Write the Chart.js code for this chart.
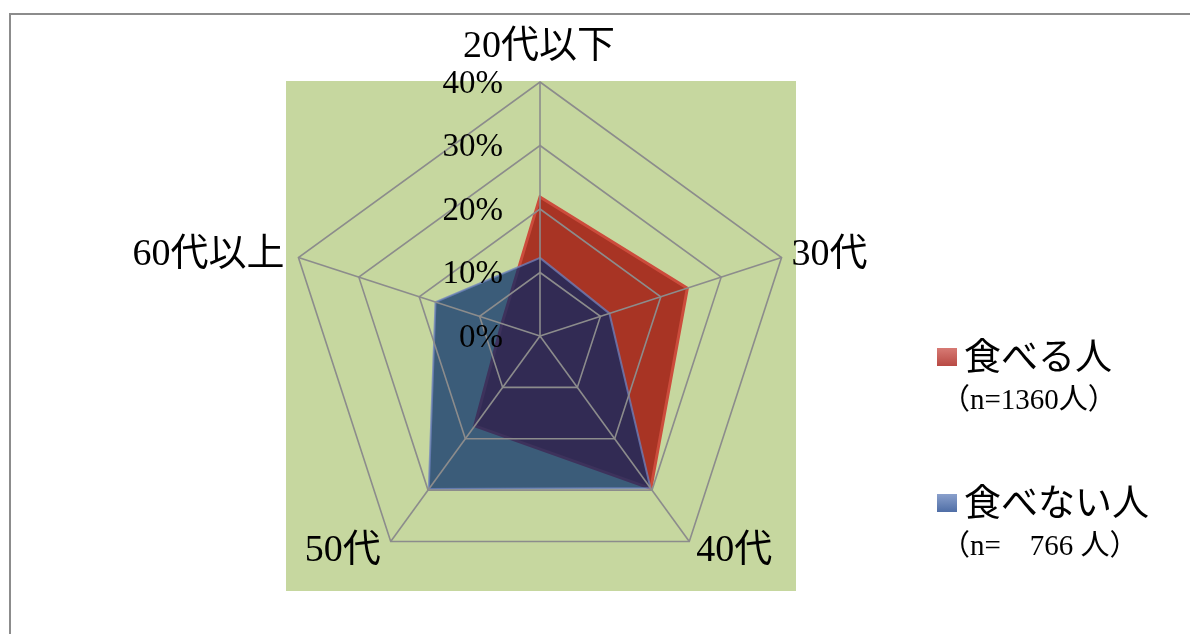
<!DOCTYPE html>
<html lang="ja">
<head>
<meta charset="utf-8">
<title>年代別 食べる人・食べない人</title>
<script src="https://cdn.jsdelivr.net/npm/chart.js@4/dist/chart.umd.min.js"></script>
<style>
  html, body { margin: 0; padding: 0; background: #ffffff; }
  #wrap { width: 1190px; height: 634px; }
</style>
</head>
<body>
<div id="wrap"><canvas id="radar" width="1190" height="634"></canvas></div>
<script>
// Age groups around the radar
const categories = ['20代以下', '30代', '40代', '50代', '60代以上'];
// Share of each age group (%)
const eaters = [21.9, 24.4, 29.7, 17.5, 6.3];
const nonEaters = [12.3, 11.5, 29.6, 29.8, 17.3];
// Radial tick values (%)
const tickValues = [0, 10, 20, 30, 40];
const seriesNames = ['食べる人', '食べない人'];
const sampleNotes = ['（n=1360人）', '（n=　766 人）'];

const SERIF = '"Liberation Serif", "Noto Sans CJK JP", serif';
const GRID = '#8c8c8c';

// Page frame and plot background (drawn under the data)
const backdrop = {
  id: 'backdrop',
  beforeDraw(chart) {
    const ctx = chart.ctx;
    ctx.save();
    ctx.fillStyle = '#ffffff';
    ctx.fillRect(0, 0, chart.width, chart.height);
    ctx.strokeStyle = GRID;
    ctx.lineWidth = 2;
    ctx.beginPath();
    ctx.moveTo(10, chart.height);
    ctx.lineTo(10, 14);
    ctx.lineTo(chart.width, 14);
    ctx.stroke();
    const s = chart.scales.r;
    const half = s.drawingArea;
    ctx.fillStyle = '#c6d79f';
    ctx.fillRect(s.xCenter - half, s.yCenter - half - 1, half * 2 + 2, half * 2 + 2);
    ctx.restore();
  }
};

// Category names, percentage ticks and the legend block
const annotations = {
  id: 'annotations',
  afterDraw(chart) {
    const ctx = chart.ctx;
    const s = chart.scales.r;
    ctx.save();
    ctx.fillStyle = '#000000';

    // category labels at the outer ring
    ctx.font = '38px ' + SERIF;
    ctx.textBaseline = 'middle';
    const place = [
      { dx: -1, dy: -35, align: 'center' },
      { dx: 10, dy: -2, align: 'left' },
      { dx: 7, dy: 10, align: 'left' },
      { dx: -10, dy: 10, align: 'right' },
      { dx: -14, dy: -2, align: 'right' }
    ];
    categories.forEach((name, i) => {
      const p = s.getPointPosition(i, s.drawingArea);
      ctx.textAlign = place[i].align;
      ctx.fillText(name, p.x + place[i].dx, p.y + place[i].dy);
    });

    // percentage ticks along the top axis
    ctx.font = '33px ' + SERIF;
    ctx.textAlign = 'right';
    tickValues.forEach(v => {
      const y = s.yCenter - s.getDistanceFromCenterForValue(v);
      ctx.fillText(v + '%', s.xCenter - 37, y + 2);
    });

    // legend
    const colors = [
      ['#d77a74', '#b84a44'],
      ['#8aa0cc', '#4f6ea6']
    ];
    const rows = [357, 503];
    rows.forEach((y, i) => {
      const g = ctx.createLinearGradient(0, y - 9, 0, y + 9);
      g.addColorStop(0, colors[i][0]);
      g.addColorStop(1, colors[i][1]);
      ctx.fillStyle = g;
      ctx.fillRect(937, y - 9, 20, 18);
      ctx.fillStyle = '#000000';
      ctx.font = '37px ' + SERIF;
      ctx.textAlign = 'left';
      ctx.fillText(seriesNames[i], 964, y + 3);
      ctx.font = '29px ' + SERIF;
      ctx.fillText(sampleNotes[i], 941, y + 44);
    });
    ctx.restore();
  }
};

new Chart(document.getElementById('radar'), {
  type: 'radar',
  data: {
    labels: categories,
    datasets: [
      {
        label: seriesNames[0],
        data: eaters,
        backgroundColor: 'rgb(168,52,36)',
        borderColor: 'rgb(204,76,60)',
        borderWidth: 3,
        fill: true,
        pointRadius: 0,
        order: 1
      },
      {
        label: seriesNames[1],
        data: nonEaters,
        backgroundColor: 'rgba(0,40,105,0.7)',
        borderColor: 'rgba(110,130,190,0.75)',
        borderWidth: 2,
        fill: true,
        pointRadius: 0,
        order: 0
      }
    ]
  },
  options: {
    responsive: false,
    devicePixelRatio: 1,
    animation: false,
    layout: { padding: { left: 286, right: 396, top: 82, bottom: 44 } },
    elements: { line: { tension: 0 } },
    plugins: { legend: { display: false }, tooltip: { enabled: false } },
    scales: {
      r: {
        min: 0,
        max: 40,
        ticks: { stepSize: 10, display: false, z: 1 },
        grid: { color: GRID, lineWidth: 1.6, z: 1 },
        angleLines: { color: GRID, lineWidth: 1.6 },
        pointLabels: { display: false }
      }
    }
  },
  plugins: [backdrop, annotations]
});
</script>
</body>
</html>
